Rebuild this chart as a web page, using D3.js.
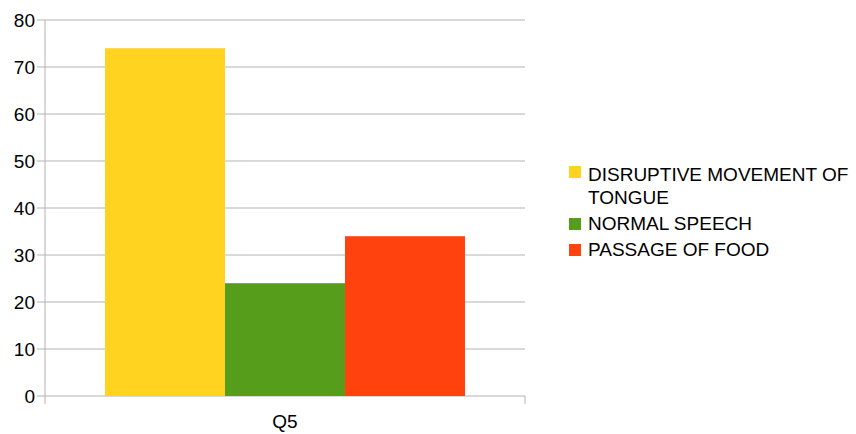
<!DOCTYPE html>
<html>
<head>
<meta charset="utf-8">
<script src="https://cdn.jsdelivr.net/npm/d3@7"></script>
<style>
  body { margin: 0; background: #fff; }
  svg text { font-family: "Liberation Sans", Arial, sans-serif; fill: #000; }
</style>
</head>
<body>
<svg id="chart" width="856" height="434"></svg>
<script>
// chart data
const categories = ["Q5"];
const seriesNames = ["DISRUPTIVE MOVEMENT OF TONGUE", "NORMAL SPEECH", "PASSAGE OF FOOD"];
const seriesValues = [74, 24, 34];
const seriesColors = ["#ffd320", "#579d1c", "#ff420e"];
const yTicks = [0, 10, 20, 30, 40, 50, 60, 70, 80];

// plot area
const LEFT = 45, RIGHT = 525, TOP = 20, BOTTOM = 396;
const FONT = "19px";

const svg = d3.select("#chart");

const x = d3.scaleBand().domain(categories).range([LEFT, RIGHT]);
const inner = d3.scaleBand().domain(seriesNames).range([0, x.bandwidth()]).paddingOuter(0.5);
const y = d3.scaleLinear().domain([0, 80]).range([BOTTOM, TOP]);

// horizontal grid lines
svg.append("g")
  .selectAll("line")
  .data(yTicks)
  .join("line")
  .attr("x1", LEFT - 8)
  .attr("x2", RIGHT)
  .attr("y1", d => y(d))
  .attr("y2", d => y(d))
  .attr("stroke", "#b3b3b3")
  .attr("stroke-width", 1);

// y axis labels
svg.append("g")
  .selectAll("text")
  .data(yTicks)
  .join("text")
  .attr("x", LEFT - 10)
  .attr("y", d => y(d) + 7)
  .attr("text-anchor", "end")
  .style("font-size", FONT)
  .text(d => d);

// bars
svg.append("g")
  .selectAll("rect")
  .data(seriesValues)
  .join("rect")
  .attr("x", (d, i) => x(categories[0]) + inner(seriesNames[i]))
  .attr("width", inner.bandwidth())
  .attr("y", d => y(d))
  .attr("height", d => y(0) - y(d))
  .attr("fill", (d, i) => seriesColors[i]);

// axis lines
svg.append("line")
  .attr("x1", LEFT).attr("x2", LEFT)
  .attr("y1", TOP).attr("y2", BOTTOM + 8)
  .attr("stroke", "#b3b3b3");
svg.append("line")
  .attr("x1", RIGHT).attr("x2", RIGHT)
  .attr("y1", BOTTOM).attr("y2", BOTTOM + 8)
  .attr("stroke", "#b3b3b3");

// category label
svg.append("g")
  .selectAll("text")
  .data(categories)
  .join("text")
  .attr("x", d => x(d) + x.bandwidth() / 2)
  .attr("y", 428)
  .attr("text-anchor", "middle")
  .style("font-size", FONT)
  .text(d => d);

// legend (long first name wraps onto two lines)
const legendRows = [
  { lines: ["DISRUPTIVE MOVEMENT OF", "TONGUE"], y: 181, sq: 166 },
  { lines: ["NORMAL SPEECH"], y: 230, sq: 218 },
  { lines: ["PASSAGE OF FOOD"], y: 256, sq: 244 }
];
const legend = svg.append("g");
legendRows.forEach((row, i) => {
  legend.append("rect")
    .attr("x", 569)
    .attr("y", row.sq)
    .attr("width", 12)
    .attr("height", 12)
    .attr("fill", seriesColors[i]);
  row.lines.forEach((t, j) => {
    legend.append("text")
      .attr("x", 588)
      .attr("y", row.y + j * 23)
      .style("font-size", FONT)
      .text(t);
  });
});
</script>
</body>
</html>
